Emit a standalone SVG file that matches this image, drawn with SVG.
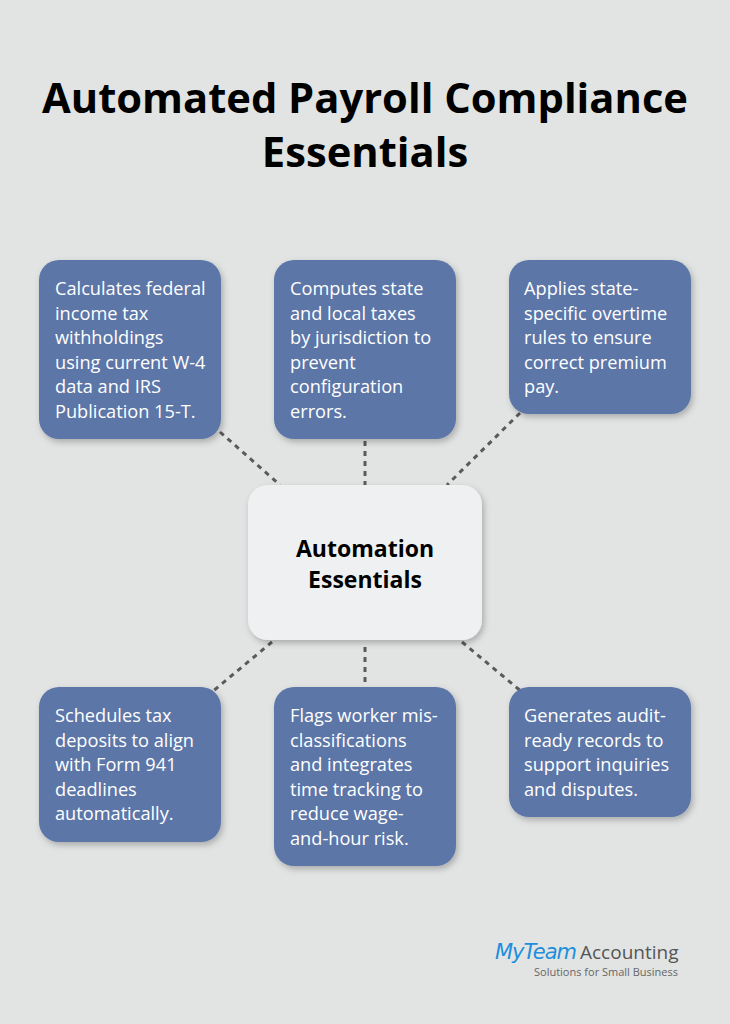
<svg xmlns="http://www.w3.org/2000/svg" width="730" height="1024" viewBox="0 0 730 1024">
<defs>
<style>
.n{fill:#5b76a8;}
.t{font-family:"Open Sans",sans-serif;font-size:18.2px;fill:#fff;}
.c{stroke:#5a5a5a;stroke-width:3;stroke-dasharray:5 5;fill:none;}
</style>
<filter id="sh" x="-20%" y="-20%" width="140%" height="140%"><feDropShadow dx="2" dy="3" stdDeviation="3" flood-opacity="0.25"/></filter>
</defs>
<rect width="730" height="1024" fill="#e2e4e3"/>
<text x="365" y="113" text-anchor="middle" font-family="'Open Sans',sans-serif" font-weight="bold" font-size="41.7" fill="#000">Automated Payroll Compliance</text>
<text x="365" y="167" text-anchor="middle" font-family="'Open Sans',sans-serif" font-weight="bold" font-size="41.7" fill="#000">Essentials</text>
<g id="connectors">
<line class="c" x1="220" y1="432" x2="280" y2="485"/>
<line class="c" x1="365" y1="441" x2="365" y2="485"/>
<line class="c" x1="520" y1="413" x2="447" y2="485"/>
<line class="c" x1="272" y1="642" x2="212" y2="692"/>
<line class="c" x1="365" y1="647" x2="365" y2="687"/>
<line class="c" x1="462" y1="642" x2="522" y2="692"/>
</g>
<g id="center"><rect x="248" y="485" width="234" height="155" rx="20" fill="#eef0f1" filter="url(#sh)"/>
<text x="365" y="557" text-anchor="middle" font-family="'Open Sans',sans-serif" font-weight="bold" font-size="23" fill="#000">Automation</text>
<text x="365" y="588" text-anchor="middle" font-family="'Open Sans',sans-serif" font-weight="bold" font-size="23" fill="#000">Essentials</text></g>
<g id="n1"><rect class="n" x="39" y="260" width="182" height="179" rx="20" filter="url(#sh)"/>
<text class="t" x="55" y="295">Calculates federal<tspan x="55" dy="24.6">income tax</tspan><tspan x="55" dy="24.6">withholdings</tspan><tspan x="55" dy="24.6">using current W-4</tspan><tspan x="55" dy="24.6">data and IRS</tspan><tspan x="55" dy="24.6">Publication 15-T.</tspan></text></g>
<g id="n2"><rect class="n" x="274" y="260" width="182" height="179" rx="20" filter="url(#sh)"/>
<text class="t" x="290" y="295">Computes state<tspan x="290" dy="24.6">and local taxes</tspan><tspan x="290" dy="24.6">by jurisdiction to</tspan><tspan x="290" dy="24.6">prevent</tspan><tspan x="290" dy="24.6">configuration</tspan><tspan x="290" dy="24.6">errors.</tspan></text></g>
<g id="n3"><rect class="n" x="509" y="260" width="182" height="154" rx="20" filter="url(#sh)"/>
<text class="t" x="524" y="295">Applies state-<tspan x="524" dy="24.6">specific overtime</tspan><tspan x="524" dy="24.6">rules to ensure</tspan><tspan x="524" dy="24.6">correct premium</tspan><tspan x="524" dy="24.6">pay.</tspan></text></g>
<g id="n4"><rect class="n" x="39" y="687" width="182" height="155" rx="20" filter="url(#sh)"/>
<text class="t" x="55" y="722">Schedules tax<tspan x="55" dy="24.6">deposits to align</tspan><tspan x="55" dy="24.6">with Form 941</tspan><tspan x="55" dy="24.6">deadlines</tspan><tspan x="55" dy="24.6">automatically.</tspan></text></g>
<g id="n5"><rect class="n" x="274" y="687" width="182" height="179" rx="20" filter="url(#sh)"/>
<text class="t" x="290" y="722">Flags worker mis-<tspan x="290" dy="24.6">classifications</tspan><tspan x="290" dy="24.6">and integrates</tspan><tspan x="290" dy="24.6">time tracking to</tspan><tspan x="290" dy="24.6">reduce wage-</tspan><tspan x="290" dy="24.6">and-hour risk.</tspan></text></g>
<g id="n6"><rect class="n" x="509" y="687" width="182" height="130" rx="20" filter="url(#sh)"/>
<text class="t" x="524" y="722">Generates audit-<tspan x="524" dy="24.6">ready records to</tspan><tspan x="524" dy="24.6">support inquiries</tspan><tspan x="524" dy="24.6">and disputes.</tspan></text></g>
<g id="logo">
<text x="495" y="959" font-family="'DejaVu Sans',sans-serif" font-style="italic" font-size="21" fill="#1d8fdc" letter-spacing="-1">MyTeam</text>
<text x="580" y="959" font-family="'Open Sans',sans-serif" font-size="19" fill="#555">Accounting</text>
<text x="534" y="976" font-family="'Open Sans',sans-serif" font-size="11" fill="#666">Solutions for Small Business</text>
</g>
</svg>
